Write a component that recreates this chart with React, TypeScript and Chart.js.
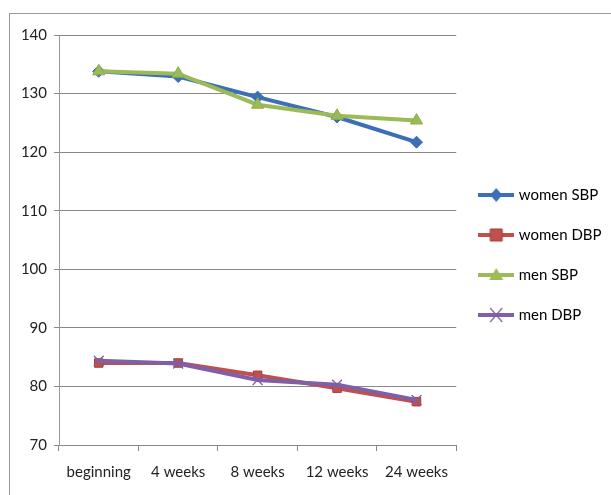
import React, { useEffect, useRef } from "react";
import { Chart, registerables } from "chart.js";

Chart.register(...registerables);

const categories = ["beginning", "4 weeks", "8 weeks", "12 weeks", "24 weeks"];
const seriesNames = ["women SBP", "women DBP", "men SBP", "men DBP"];
const womenSBP = [133.8, 132.9, 129.4, 126.0, 121.7];
const womenDBP = [84.0, 84.0, 81.9, 79.7, 77.4];
const menSBP = [133.8, 133.4, 128.1, 126.2, 125.4];
const menDBP = [84.4, 83.9, 81.1, 80.3, 77.7];
const yTicks = [70, 80, 90, 100, 110, 120, 130, 140];

const FONT = "Lato, 'Liberation Sans', sans-serif";

const colors = ["#3C6FB5", "#C0504D", "#9BBB59", "#7F5FA6"];
const borders = ["#3C6FB5", "#A83C3A", "#8AAE48", "#7F5FA6"];
const styles = ["rectRot", "rect", "triangle", "crossRot"];
const radii = [6, 6, 7, 7];

function drawMarker(ctx: CanvasRenderingContext2D, style: string, cx: number, cy: number, color: string, border: string) {
  ctx.fillStyle = color;
  ctx.strokeStyle = border;
  ctx.lineWidth = 1;
  ctx.beginPath();
  if (style === "rectRot") {
    ctx.moveTo(cx, cy - 7);
    ctx.lineTo(cx + 6, cy);
    ctx.lineTo(cx, cy + 7);
    ctx.lineTo(cx - 6, cy);
    ctx.closePath();
    ctx.fill();
  } else if (style === "rect") {
    ctx.rect(cx - 6, cy - 6, 12, 12);
    ctx.fill();
    ctx.stroke();
  } else if (style === "triangle") {
    ctx.moveTo(cx, cy - 7);
    ctx.lineTo(cx + 7, cy + 5);
    ctx.lineTo(cx - 7, cy + 5);
    ctx.closePath();
    ctx.fill();
  } else {
    ctx.lineWidth = 1.2;
    ctx.moveTo(cx - 6, cy - 7);
    ctx.lineTo(cx + 6, cy + 7);
    ctx.moveTo(cx + 6, cy - 7);
    ctx.lineTo(cx - 6, cy + 7);
    ctx.stroke();
  }
}

function legendImage(i: number): HTMLCanvasElement {
  const c = document.createElement("canvas");
  c.width = 36;
  c.height = 18;
  const ctx = c.getContext("2d")!;
  ctx.strokeStyle = colors[i];
  ctx.lineWidth = 4;
  ctx.beginPath();
  ctx.moveTo(0, 9);
  ctx.lineTo(36, 9);
  ctx.stroke();
  drawMarker(ctx, styles[i], 18, 9, colors[i], borders[i]);
  return c;
}

const legendShift = {
  id: "legendShift",
  afterLayout(chart: any) {
    const lg = chart.legend;
    if (lg) {
      lg.bottom -= 20;
      lg.height -= 20;
    }
  },
};

export default function App() {
  const ref = useRef<HTMLCanvasElement | null>(null);

  useEffect(() => {
    if (!ref.current) return;
    const images = [0, 1, 2, 3].map(legendImage);
    const values = [womenSBP, womenDBP, menSBP, menDBP];
    const orders = [4, 3, 2, 1];
    const chart = new Chart(ref.current, {
      type: "line",
      data: {
        labels: categories,
        datasets: values.map((v, i) => ({
          label: seriesNames[i],
          data: v,
          borderColor: colors[i],
          backgroundColor: colors[i],
          borderWidth: 4,
          pointStyle: styles[i] as any,
          pointRadius: radii[i],
          pointBorderColor: i === 3 ? colors[i] : borders[i],
          pointBackgroundColor: colors[i],
          pointBorderWidth: i === 3 ? 1.3 : 1,
          tension: 0,
          order: orders[i],
        })),
      },
      plugins: [legendShift],
      options: {
        responsive: false,
        animation: false,
        layout: { padding: { left: 0, top: 21, right: 6, bottom: 0 } },
        plugins: {
          tooltip: { enabled: false },
          legend: {
            position: "right",
            align: "center",
            labels: {
              usePointStyle: true,
              pointStyleWidth: 30,
              boxHeight: 16,
              padding: 25,
              color: "#222",
              font: { family: FONT, size: 15 },
              generateLabels: (ch: any) =>
                ch.data.datasets.map((ds: any, i: number) => ({
                  text: ds.label,
                  pointStyle: images[i],
                  fillStyle: colors[i],
                  strokeStyle: colors[i],
                  lineWidth: 0,
                  hidden: false,
                  datasetIndex: i,
                })),
            },
          },
        },
        scales: {
          x: {
            type: "category",
            offset: true,
            grid: {
              offset: true,
              drawOnChartArea: false,
              drawTicks: true,
              tickLength: 6,
              color: "#888",
            },
            border: { display: true, color: "#888" },
            ticks: {
              color: "#222",
              padding: 12,
              maxRotation: 0,
              font: { family: FONT, size: 15 },
            },
            afterFit: (s: any) => {
              s.height = 50;
            },
          },
          y: {
            min: 70,
            max: 140,
            afterBuildTicks: (s: any) => {
              s.ticks = yTicks.map((v) => ({ value: v }));
            },
            grid: { color: "#888", tickLength: 5, drawTicks: true },
            border: { display: true, color: "#999" },
            ticks: {
              color: "#222",
              padding: 7,
              font: { family: FONT, size: 15 },
            },
            afterFit: (s: any) => {
              s.width = 49;
            },
          },
        },
      },
    });
    return () => chart.destroy();
  }, []);

  return (
    <>
      <style>{`body{margin:0;overflow:hidden;background:#fff}`}</style>
      <div
        style={{
          position: "absolute",
          left: 9,
          top: 13,
          width: 640,
          height: 520,
          borderTop: "1px solid #9a9a9a",
          borderLeft: "1px solid #9a9a9a",
        }}
      >
        <canvas ref={ref} width={601} height={481} style={{ display: "block" }} />
      </div>
    </>
  );
}
